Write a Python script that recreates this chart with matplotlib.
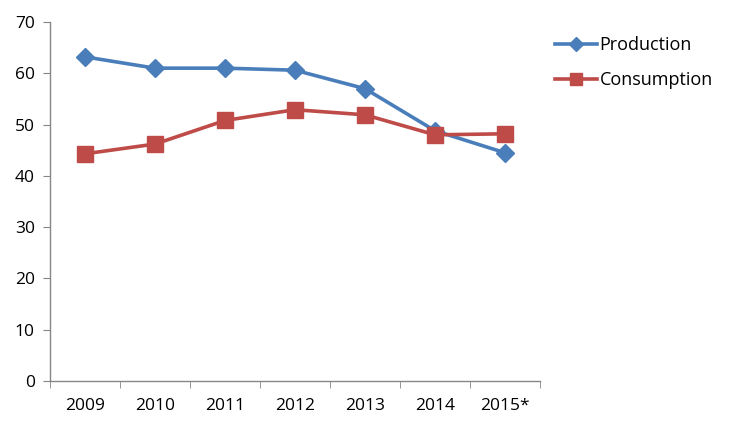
import matplotlib
matplotlib.use("Agg")
import matplotlib.pyplot as plt
import numpy as np

years = ["2009", "2010", "2011", "2012", "2013", "2014", "2015*"]
production = [63.2, 61.0, 61.0, 60.6, 57.0, 48.8, 44.5]
consumption = [44.3, 46.2, 50.8, 52.9, 51.9, 48.0, 48.2]
yticks = [0, 10, 20, 30, 40, 50, 60, 70]

plt.rcParams['font.family'] = ['Open Sans', 'DejaVu Sans']

fig = plt.figure(figsize=(7.5, 4.34), dpi=100)
ax = fig.add_axes([50/750, 1-381/434, (540-50)/750, (381-22)/434])

x = np.arange(len(years))
blue = "#4A7EBB"
red = "#BE4B48"
ax.plot(x, production, color=blue, lw=2.6, marker="D", markersize=9,
        markeredgecolor=blue, label="Production", solid_joinstyle="round")
ax.plot(x, consumption, color=red, lw=2.6, marker="s", markersize=11,
        markeredgecolor=red, label="Consumption", solid_joinstyle="round")

ax.set_xlim(-0.5, len(years)-0.5)
ax.set_ylim(0, 70)
ax.set_yticks(yticks)
ax.set_yticklabels([str(v) for v in yticks])
ax.set_xticks(x)
ax.set_xticklabels(years)
ax.set_xticks(np.arange(len(years)+1)-0.5, minor=True)

gray = "#868686"
for s in ["top", "right"]:
    ax.spines[s].set_visible(False)
for s in ["left", "bottom"]:
    ax.spines[s].set_color(gray)
    ax.spines[s].set_linewidth(1.0)

ax.tick_params(axis="y", which="major", direction="out", length=5, color=gray,
               labelsize=12.5, labelcolor="#000000", pad=6)
ax.tick_params(axis="x", which="major", length=0, labelsize=12.5, pad=12)
ax.tick_params(axis="x", which="minor", direction="out", length=5, color=gray)

fig.legend(loc="upper left", bbox_to_anchor=(548/750, 1-29/434), frameon=False,
           fontsize=13, handlelength=2.3, handletextpad=0.15, labelspacing=0.95,
           markerscale=0.75, borderaxespad=0)

fig.savefig("out.png", dpi=100)
